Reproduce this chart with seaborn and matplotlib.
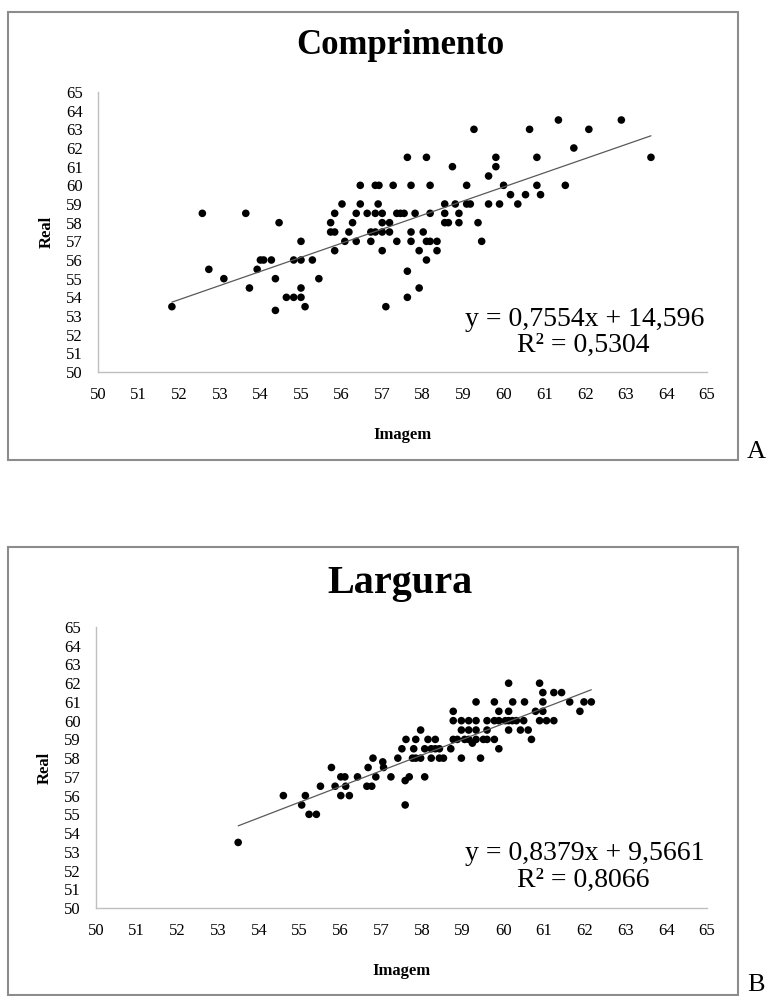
import numpy as np
import seaborn as sns
import matplotlib.pyplot as plt
from matplotlib.patches import Rectangle

# ::. Panel A - Comprimento (Imagem x Real) ::.
x_a = [51.82, 52.57, 52.73, 53.10, 53.64, 53.73, 53.92, 54.00, 54.08, 54.27,
       54.37, 54.37, 54.46, 54.64, 54.82, 54.82, 55.00, 55.00, 55.00, 55.00,
       55.10, 55.28, 55.44, 55.73, 55.73, 55.83, 55.83, 55.83,
       61.34, 59.26, 60.63, 57.62, 58.09, 59.80, 60.81, 58.73, 59.80, 59.62,
       56.46, 56.83, 56.92, 57.27, 57.71, 58.18, 59.08, 59.99, 60.81,
       60.16, 60.53, 60.90,
       56.01, 56.46, 56.90, 58.54, 58.80, 59.08, 59.17, 59.62, 59.89, 60.34,
       56.36, 56.63, 56.83, 57.00, 57.36, 57.45, 57.54, 57.81, 58.18, 58.54, 58.89,
       56.27, 57.00, 57.18, 58.54, 58.63, 58.89, 59.36,
       56.18, 56.72, 56.83, 57.00, 57.18, 57.71, 58.01,
       56.08, 56.36, 56.72, 57.36, 57.71, 58.09, 58.18, 58.35, 59.45,
       57.00, 57.91, 58.35, 58.09, 57.62, 57.91, 57.62, 57.09,
       61.72, 62.09, 62.89, 63.62, 61.51]
y_a = [53.5, 58.5, 55.5, 55.0, 58.5, 54.5, 55.5, 56.0, 56.0, 56.0,
       55.0, 53.3, 58.0, 54.0, 56.0, 54.0, 57.0, 56.0, 54.5, 54.0,
       53.5, 56.0, 55.0, 58.0, 57.5, 57.5, 58.5, 56.5,
       63.5, 63.0, 63.0, 61.5, 61.5, 61.5, 61.5, 61.0, 61.0, 60.5,
       60.0, 60.0, 60.0, 60.0, 60.0, 60.0, 60.0, 60.0, 60.0,
       59.5, 59.5, 59.5,
       59.0, 59.0, 59.0, 59.0, 59.0, 59.0, 59.0, 59.0, 59.0, 59.0,
       58.5, 58.5, 58.5, 58.5, 58.5, 58.5, 58.5, 58.5, 58.5, 58.5, 58.5,
       58.0, 58.0, 58.0, 58.0, 58.0, 58.0, 58.0,
       57.5, 57.5, 57.5, 57.5, 57.5, 57.5, 57.5,
       57.0, 57.0, 57.0, 57.0, 57.0, 57.0, 57.0, 57.0, 57.0,
       56.5, 56.5, 56.5, 56.0, 55.4, 54.5, 54.0, 53.5,
       62.0, 63.0, 63.5, 61.5, 60.0]

# ::. Panel B - Largura ::.
x_b = [53.49, 54.60, 55.14, 55.05, 55.23, 55.41, 55.51, 55.78, 55.87,
       60.13, 60.89,
       60.97, 61.24, 61.43,
       59.33, 59.78, 60.23, 60.52, 60.97, 61.63, 61.98, 62.16,
       58.77, 59.89, 60.13, 60.79, 60.97, 61.88,
       58.77, 58.97, 59.15, 59.33, 59.60, 59.78, 59.89, 60.05, 60.13, 60.22,
       60.32, 60.50, 60.89, 61.06, 61.24,
       57.97, 58.97, 59.15, 59.33, 59.60, 60.13, 60.42, 60.61,
       57.61, 57.85, 58.15, 58.33, 58.77, 58.87, 59.05, 59.15, 59.33, 59.51,
       59.60, 59.78, 60.69,
       59.24,
       57.51, 57.80, 58.07, 58.23, 58.33, 58.43, 58.71, 59.89,
       56.80, 57.41, 57.77, 57.85, 57.97, 58.23, 58.43, 58.53, 58.97, 59.44,
       57.04, 57.06, 56.68,
       56.01, 56.11, 56.42, 56.87, 57.24, 57.69, 58.07,
       57.59, 56.13, 56.65, 56.77, 56.01, 56.22, 57.59]
y_b = [53.5, 56.0, 56.0, 55.5, 55.0, 55.0, 56.5, 57.5, 56.5,
       62.0, 62.0,
       61.5, 61.5, 61.5,
       61.0, 61.0, 61.0, 61.0, 61.0, 61.0, 61.0, 61.0,
       60.5, 60.5, 60.5, 60.5, 60.5, 60.5,
       60.0, 60.0, 60.0, 60.0, 60.0, 60.0, 60.0, 60.0, 60.0, 60.0,
       60.0, 60.0, 60.0, 60.0, 60.0,
       59.5, 59.5, 59.5, 59.5, 59.5, 59.5, 59.5, 59.5,
       59.0, 59.0, 59.0, 59.0, 59.0, 59.0, 59.0, 59.0, 59.0, 59.0,
       59.0, 59.0, 59.0,
       58.8,
       58.5, 58.5, 58.5, 58.5, 58.5, 58.5, 58.5, 58.5,
       58.0, 58.0, 58.0, 58.0, 58.0, 58.0, 58.0, 58.0, 58.0, 58.0,
       57.8, 57.5, 57.5,
       57.0, 57.0, 57.0, 57.0, 57.0, 57.0, 57.0,
       56.8, 56.5, 56.5, 56.5, 56.0, 56.0, 55.5]

# ::. Trendline coefficients (as printed on the chart) ::.
slope_a, intercept_a = 0.7554, 14.596
slope_b, intercept_b = 0.8379, 9.5661
titles = ["Comprimento", "Largura"]
panel_tags = ["A", "B"]
eq_lines = ["y = 0,7554x + 14,596", "y = 0,8379x + 9,5661"]
r2_lines = ["R² = 0,5304", "R² = 0,8066"]
ticks = list(range(50, 66))

sns.set_theme(style="white")
plt.rcParams["font.family"] = ["Liberation Serif", "DejaVu Serif"]
plt.rcParams["text.color"] = "black"
plt.rcParams["axes.labelcolor"] = "black"
plt.rcParams["xtick.color"] = "black"
plt.rcParams["ytick.color"] = "black"

W, H = 772, 996
fig = plt.figure(figsize=(W / 100, H / 100), dpi=100)

def fx(px):
    return px / W

def fy(py):
    return 1 - py / H

# layout in pixels
boxes = [(98, 92, 707, 372), (96, 627, 707, 908)]
frames = [(8, 12, 738, 460), (8, 547, 738, 995)]
title_y = [46, 584]
title_size = [25, 29]
eq_y = [319, 853]
r2_y = [345, 880]
tag_y = [452, 985]

datasets = [(x_a, y_a, slope_a, intercept_a), (x_b, y_b, slope_b, intercept_b)]

for i, (xs, ys, m, b) in enumerate(datasets):
    l, t, r, btm = boxes[i]
    ax = fig.add_axes([fx(l), fy(btm), fx(r) - fx(l), fy(t) - fy(btm)])
    sns.scatterplot(x=xs, y=ys, ax=ax, color="black", s=30, edgecolor="none")
    xx = np.array([min(xs), max(xs)])
    ax.plot(xx, m * xx + b, color="#595959", lw=0.9)

    ax.set_xlim(50, 65)
    ax.set_ylim(50, 65)
    ax.set_xticks(ticks)
    ax.set_yticks(ticks)
    ax.tick_params(axis="both", length=0, labelsize=12, labelcolor="black")
    ax.tick_params(axis="x", pad=11)
    ax.tick_params(axis="y", pad=11)
    for s in ["top", "right"]:
        ax.spines[s].set_visible(False)
    for s in ["left", "bottom"]:
        ax.spines[s].set_color("#BFBFBF")
        ax.spines[s].set_linewidth(1)
    ax.set_xlabel("Imagem", fontsize=12, fontweight="bold", labelpad=17, color="black")
    ax.set_ylabel("Real", fontsize=12, fontweight="bold", labelpad=8, color="black")

    # chart title and trendline equation
    fig.text(fx(400), fy(title_y[i]), titles[i], ha="center", va="center",
             fontsize=title_size[i], fontweight="bold", color="black")
    fig.text(fx(585), fy(eq_y[i]), eq_lines[i], ha="center", va="center",
             fontsize=20, color="black")
    fig.text(fx(583), fy(r2_y[i]), r2_lines[i], ha="center", va="center",
             fontsize=20, color="black")

    # chart frame and panel tag
    fl, ft, fr, fb = frames[i]
    fig.add_artist(Rectangle((fx(fl), fy(fb)), fx(fr) - fx(fl), fy(ft) - fy(fb),
                             transform=fig.transFigure, fill=False,
                             edgecolor="#8C8C8C", lw=1.5))
    fig.text(fx(747), fy(tag_y[i]), panel_tags[i], ha="left", va="center",
             fontsize=19, color="black")

fig.savefig("out.png", dpi=100)
